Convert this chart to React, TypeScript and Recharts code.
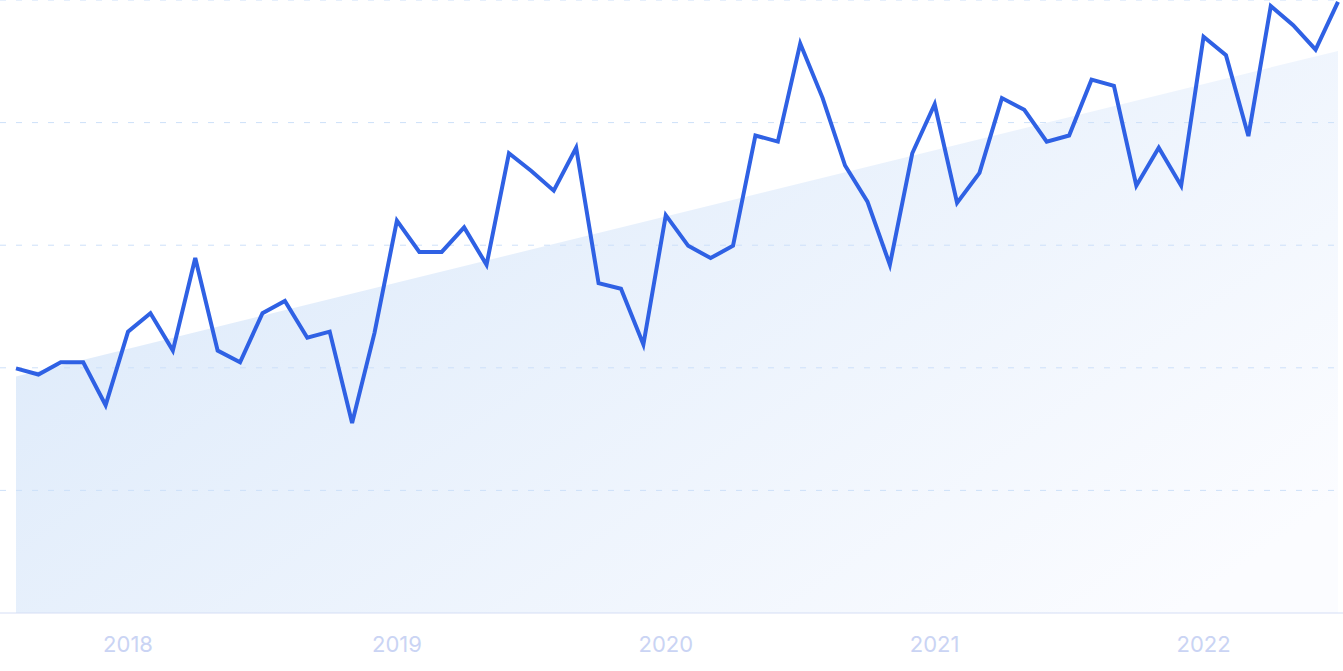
import { ComposedChart, Line, Area, XAxis, YAxis, ReferenceLine } from "recharts"

const months = [
  "2017-08", "2017-09", "2017-10", "2017-11", "2017-12",
  "2018-01", "2018-02", "2018-03", "2018-04", "2018-05", "2018-06",
  "2018-07", "2018-08", "2018-09", "2018-10", "2018-11", "2018-12",
  "2019-01", "2019-02", "2019-03", "2019-04", "2019-05", "2019-06",
  "2019-07", "2019-08", "2019-09", "2019-10", "2019-11", "2019-12",
  "2020-01", "2020-02", "2020-03", "2020-04", "2020-05", "2020-06",
  "2020-07", "2020-08", "2020-09", "2020-10", "2020-11", "2020-12",
  "2021-01", "2021-02", "2021-03", "2021-04", "2021-05", "2021-06",
  "2021-07", "2021-08", "2021-09", "2021-10", "2021-11", "2021-12",
  "2022-01", "2022-02", "2022-03", "2022-04", "2022-05", "2022-06",
  "2022-07",
]

const interest = [
  39.9, 38.9, 40.9, 40.9, 33.9,
  45.9, 48.9, 42.8, 57.9, 42.8, 40.9,
  48.9, 50.9, 44.9, 45.9, 31.0, 45.7,
  64.0, 58.9, 58.9, 62.9, 56.8, 75.0,
  72.1, 68.9, 75.9, 53.8, 52.9, 43.8,
  64.9, 59.9, 57.9, 59.9, 77.9, 76.9,
  92.9, 84.0, 73.0, 67.1, 56.8, 75.0,
  83.0, 66.9, 71.8, 84.0, 82.1, 76.9,
  77.9, 87.0, 86.0, 69.7, 75.9, 69.7,
  94.0, 91.0, 77.8, 99.0, 95.9, 91.9,
  99.7,
]

// trend line: only its two ends, the area connects them
const trendStart = 38.6
const trendEnd = 91.7

const yearTicks = ["2018-01", "2019-01", "2020-01", "2021-01", "2022-01"]
const gridValues = [20, 40, 60, 80, 100]

const data = months.map((m, i) => ({
  month: m,
  value: interest[i],
  trend: i === 0 ? trendStart : i === months.length - 1 ? trendEnd : null,
}))

export default function App() {
  return (
    <div style={{ width: 1343, height: 671, background: "#fff" }}>
      <style>{"body{margin:0}"}</style>
      <ComposedChart
        width={1343}
        height={671}
        data={data}
        margin={{ top: 0, right: 0, bottom: 0, left: 0 }}
      >
        <defs>
          <linearGradient id="trendFill" x1="0" y1="0.2" x2="1" y2="0.8">
            <stop offset="0%" stopColor="#dbe9fa" />
            <stop offset="100%" stopColor="#fbfcff" />
          </linearGradient>
        </defs>
        <YAxis hide domain={[0, 100]} />
        <XAxis
          dataKey="month"
          ticks={yearTicks}
          interval={0}
          tickFormatter={(m: string) => m.slice(0, 4)}
          padding={{ left: 16, right: 5 }}
          height={58}
          axisLine={{ stroke: "#d5def5" }}
          tickLine={false}
          tickSize={0}
          tickMargin={23}
          tick={{ fill: "#cad4f4", fontSize: 22, fontFamily: "Inter" }}
        />
        <Area
          type="linear"
          dataKey="trend"
          connectNulls
          stroke="none"
          fill="url(#trendFill)"
          fillOpacity={1}
          dot={false}
          activeDot={false}
          isAnimationActive={false}
        />
        {gridValues.map((v) => (
          <ReferenceLine
            key={v}
            y={v}
            stroke="#cde0f9"
            strokeDasharray="6 10"
          />
        ))}
        <Line
          type="linear"
          dataKey="value"
          stroke="#2f61e4"
          strokeWidth={4}
          dot={false}
          activeDot={false}
          isAnimationActive={false}
        />
      </ComposedChart>
    </div>
  )
}
